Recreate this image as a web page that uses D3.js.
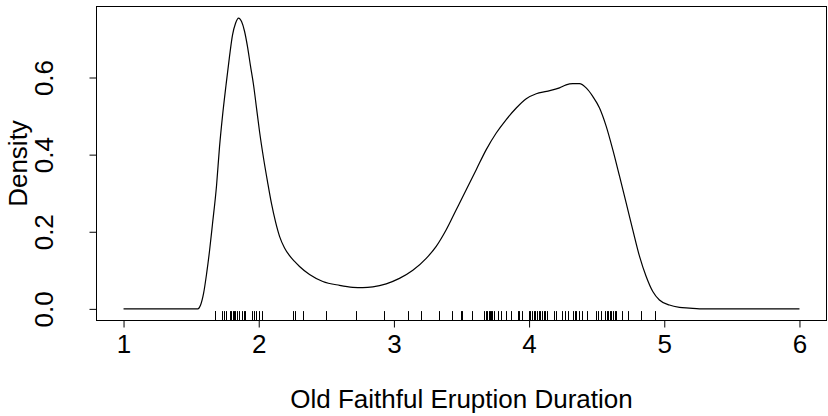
<!DOCTYPE html>
<html>
<head>
<meta charset="utf-8">
<script src="https://cdn.jsdelivr.net/npm/d3@7"></script>
<style>
  html, body { margin: 0; padding: 0; background: #fff; }
  svg { display: block; }
  text { font-family: "Liberation Sans", Arial, Helvetica, sans-serif; fill: #000; }
</style>
</head>
<body>
<svg id="chart" width="828" height="416"></svg>
<script>
// Density estimate of Old Faithful eruption durations
const gridX = [1.0, 1.55, 1.570, 1.592, 1.614, 1.636, 1.658, 1.688, 1.710, 1.732, 1.758, 1.784, 1.806, 1.828, 1.851,
  1.873, 1.895, 1.917, 1.939, 1.962, 1.984, 2.006, 2.036, 2.065, 2.095, 2.124, 2.154, 2.191, 2.228, 2.265, 2.302,
  2.376, 2.474, 2.598, 2.696, 2.770, 2.844, 2.943, 3.041, 3.140, 3.239, 3.313, 3.387, 3.461, 3.535, 3.609, 3.683,
  3.757, 3.831, 3.905, 3.979, 4.053, 4.130, 4.225, 4.274, 4.323, 4.373, 4.422, 4.471, 4.521, 4.570, 4.619,
  4.669, 4.718, 4.767, 4.817, 4.866, 4.915, 4.964, 5.038, 5.112, 5.186, 5.26, 6.0];
const density = [0, 0, 0.010, 0.040, 0.090, 0.150, 0.220, 0.320, 0.420, 0.500, 0.580, 0.655, 0.710, 0.740, 0.754,
  0.745, 0.720, 0.680, 0.630, 0.580, 0.520, 0.460, 0.390, 0.330, 0.272, 0.226, 0.188, 0.158, 0.138, 0.123, 0.110,
  0.089, 0.071, 0.061, 0.056, 0.055, 0.057, 0.065, 0.079, 0.100, 0.131, 0.162, 0.205, 0.257, 0.309, 0.361, 0.413,
  0.456, 0.491, 0.521, 0.545, 0.558, 0.564, 0.573, 0.581, 0.584, 0.584, 0.573, 0.551, 0.521, 0.474, 0.413,
  0.344, 0.275, 0.205, 0.136, 0.084, 0.045, 0.023, 0.010, 0.004, 0.002, 0, 0];

// Observed eruption durations (rug)
const eruptions = [1.673, 1.678, 1.730, 1.745, 1.760, 1.786, 1.797, 1.808, 1.819, 1.826, 1.836, 1.853, 1.878,
  1.888, 1.900, 1.952, 1.967, 1.979, 2.004, 2.026, 2.252, 2.265, 2.329, 2.501, 2.718, 2.930, 3.103, 3.199,
  3.330, 3.428, 3.493, 3.505, 3.579, 3.670, 3.680, 3.690, 3.700, 3.709, 3.720, 3.729, 3.739, 3.768, 3.794,
  3.828, 3.868, 3.916, 3.927, 3.949, 3.998, 4.008, 4.020, 4.033, 4.045, 4.057, 4.070, 4.082, 4.094, 4.107,
  4.119, 4.131, 4.183, 4.200, 4.245, 4.262, 4.286, 4.323, 4.336, 4.348, 4.368, 4.393, 4.430, 4.496, 4.508,
  4.533, 4.565, 4.575, 4.585, 4.595, 4.607, 4.619, 4.632, 4.644, 4.689, 4.730, 4.829, 4.928];

const xTicks = [1, 2, 3, 4, 5, 6];
const yTicks = [0.0, 0.2, 0.4, 0.6];
const xTitle = "Old Faithful Eruption Duration";
const yTitle = "Density";

const svg = d3.select("#chart");
const L = 96.5, R = 826.5, T = 6.5, B = 320.5;

const xr = d3.extent(gridX), xp = 0.04 * (xr[1] - xr[0]);
const x = d3.scaleLinear().domain([xr[0] - xp, xr[1] + xp]).range([L, R]);
const yr = [d3.min(density), d3.max(density)], yp = 0.04 * (yr[1] - yr[0]);
const y = d3.scaleLinear().domain([yr[0] - yp, yr[1] + yp]).range([B, T]);

const pts = gridX.map((v, i) => [v, density[i]]);
const line = d3.line().x(d => x(d[0])).y(d => y(d[1])).curve(d3.curveMonotoneX);

svg.append("path").datum(pts)
  .attr("d", line).attr("fill", "none").attr("stroke", "#000").attr("stroke-width", 1.2);

// rug
svg.append("g").selectAll("line").data(eruptions).join("line")
  .attr("x1", d => Math.round(x(d)) + 0.5).attr("x2", d => Math.round(x(d)) + 0.5)
  .attr("y1", B).attr("y2", B - 0.03 * (B - T))
  .attr("stroke", "#000").attr("stroke-width", 1);

// box
svg.append("rect").attr("x", L).attr("y", T).attr("width", R - L).attr("height", B - T)
  .attr("fill", "none").attr("stroke", "#000").attr("stroke-width", 1);

// axes
const fs = "26px";
const xAxis = d3.axisBottom(x).tickValues(xTicks).tickSize(7).tickFormat(d3.format("d"));
const gx = svg.append("g").attr("transform", `translate(0,${B})`).call(xAxis);
gx.select(".domain").attr("d", `M${x(xTicks[0])},0H${x(xTicks[xTicks.length - 1])}`).attr("stroke", "#000");
gx.selectAll(".tick line").attr("stroke", "#000");
gx.selectAll(".tick text").attr("y", 32).attr("dy", 0).style("font-size", fs)
  .style("font-family", '"Liberation Sans", Arial, sans-serif').attr("fill", "#000");

const yAxis = d3.axisLeft(y).tickValues(yTicks).tickSize(7).tickFormat(d3.format(".1f"));
const gy = svg.append("g").attr("transform", `translate(${L},0)`).call(yAxis);
gy.select(".domain").attr("d", `M0,${y(yTicks[0])}V${y(yTicks[yTicks.length - 1])}`).attr("stroke", "#000");
gy.selectAll(".tick line").attr("stroke", "#000");
gy.selectAll(".tick text")
  .attr("x", null).attr("dy", 0)
  .attr("transform", "translate(-44,0) rotate(-90)")
  .attr("text-anchor", "middle")
  .style("font-size", fs).style("font-family", '"Liberation Sans", Arial, sans-serif').attr("fill", "#000");

svg.append("text").attr("x", (L + R) / 2).attr("y", 408)
  .attr("text-anchor", "middle").style("font-size", fs).text(xTitle);
svg.append("text").attr("transform", `translate(27,${(T + B) / 2}) rotate(-90)`)
  .attr("text-anchor", "middle").style("font-size", fs).text(yTitle);
</script>
</body>
</html>
